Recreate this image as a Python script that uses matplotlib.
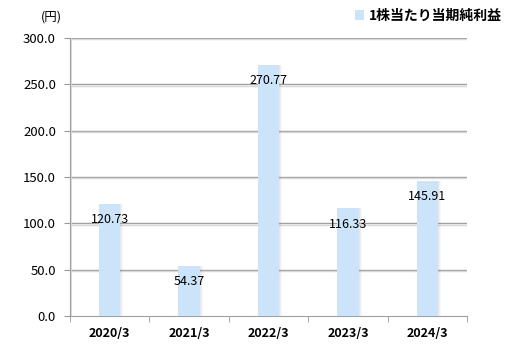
import matplotlib
matplotlib.use("Agg")
import matplotlib.pyplot as plt
import numpy as np

plt.rcParams['font.family'] = ['Noto Sans CJK JP', 'DejaVu Sans']

categories = ["2020/3", "2021/3", "2022/3", "2023/3", "2024/3"]
values = [120.73, 54.37, 270.77, 116.33, 145.91]
labels = ["120.73", "54.37", "270.77", "116.33", "145.91"]
series_name = "1株当たり当期純利益"
yticks = [0, 50, 100, 150, 200, 250, 300]

fig = plt.figure(figsize=(5.14, 3.6), dpi=100)
ax = fig.add_axes([0.136, 0.122, 0.773, 0.772])

x = np.arange(len(categories))
w = 0.27
bar_color = "#CCE4FA"

# shadows
for k, a in enumerate([0.16, 0.10, 0.05]):
    ax.bar(x + w / 2 + 0.012 * (k + 1) - 0.006, values, width=0.013, color="#707070",
           alpha=a, zorder=2, linewidth=0)
ax.bar(x, values, width=w, color=bar_color, zorder=3, linewidth=0, label=series_name)

for xi, v, lab in zip(x, values, labels):
    ax.text(xi, v - 17, lab, ha="center", va="center", fontsize=9, color="#000000", zorder=4)

ax.set_xlim(-0.5, len(categories) - 0.5)
ax.set_ylim(0, 300)
ax.set_yticks(yticks)
ax.set_yticklabels([f"{t:.1f}" for t in yticks], fontsize=9.5)
ax.set_xticks(x)
ax.set_xticklabels(categories, fontsize=9, fontweight="bold")
ax.tick_params(axis="x", length=0, pad=8)
ax.set_xticks(np.arange(-0.5, len(categories), 1), minor=True)
ax.tick_params(axis="x", which="minor", length=4, color="#999999", direction="out")
ax.tick_params(axis="y", length=4, color="#999999", direction="out", pad=6)

for t in yticks[1:]:
    ax.axhline(t, color="#A0A0A0", linewidth=1.0, zorder=1)
    ax.axhline(t - 1.2, color="#D8D8D8", linewidth=1.0, zorder=1)

for s in ["top", "right"]:
    ax.spines[s].set_visible(False)
ax.spines["left"].set_color("#A0A0A0")
ax.spines["bottom"].set_color("#A0A0A0")
ax.axvline(-0.49, color="#D8D8D8", linewidth=1.2, zorder=1)

fig.text(0.1, 0.952, "(円)", fontsize=9, ha="center", va="center")

leg = ax.legend(loc="upper right", bbox_to_anchor=(1.1, 1.125), frameon=False, fontsize=10,
                handlelength=0.7, handleheight=0.7, handletextpad=0.3, borderaxespad=0)
for t in leg.get_texts():
    t.set_fontweight("bold")

fig.savefig("out.png", dpi=100)
